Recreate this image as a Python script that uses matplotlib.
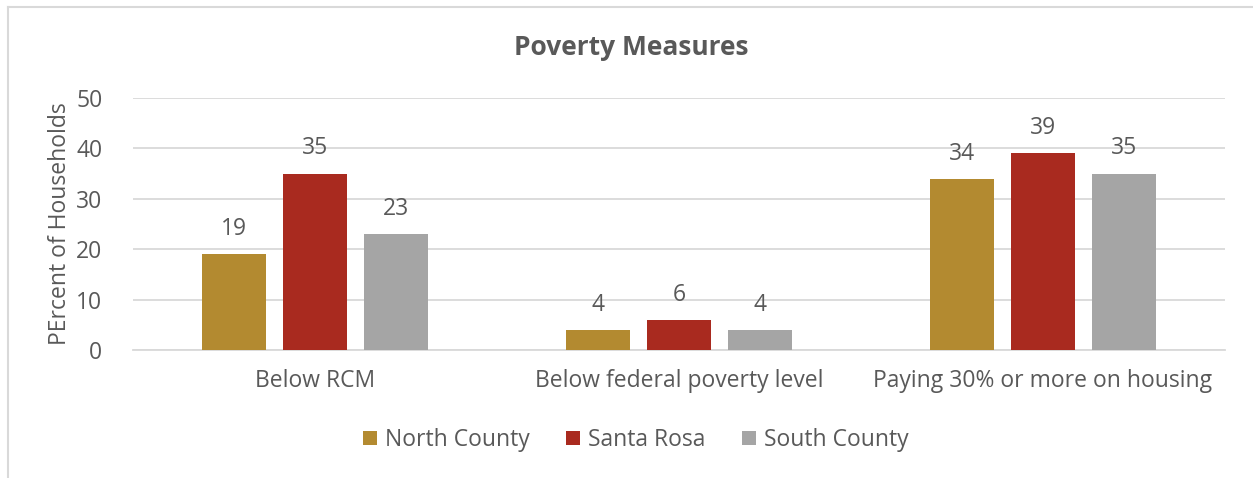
import matplotlib.pyplot as plt
import numpy as np
from matplotlib.lines import Line2D

plt.rcParams['font.family'] = ['Open Sans', 'DejaVu Sans']

categories = ['Below RCM', 'Below federal poverty level', 'Paying 30% or more on housing']
series_names = ['North County', 'Santa Rosa', 'South County']
north_county = [19, 4, 34]
santa_rosa = [35, 6, 39]
south_county = [23, 4, 35]
colors = ['#B38A30', '#A92A1F', '#A5A5A5']
text_color = '#595959'
fs = 16.5

fig = plt.figure(figsize=(12.53, 4.78), dpi=100)
ax = fig.add_axes([133 / 1253, 1 - 350 / 478, 1092 / 1253, 252 / 478])

# outer chart frame (only left and top edges show in the reference)
fx, fy = 7.5 / 1253, 1 - 6.5 / 478
fig.lines.append(Line2D([fx, fx], [0, fy], transform=fig.transFigure, color='#D9D9D9', linewidth=1.5))
fig.lines.append(Line2D([fx, 1], [fy, fy], transform=fig.transFigure, color='#D9D9D9', linewidth=1.5))

x = np.arange(len(categories))
width = 0.176
step = 0.2225
for i, (name, vals) in enumerate(zip(series_names, [north_county, santa_rosa, south_county])):
    pos = x + (i - 1) * step
    bars = ax.bar(pos, vals, width, color=colors[i], label=name, zorder=3)
    for b, v in zip(bars, vals):
        ax.text(b.get_x() + b.get_width() / 2, v + 2.6, str(v), ha='center', va='bottom',
                fontsize=fs, color=text_color)

ax.set_xlim(-0.5, 2.5)
ax.set_ylim(0, 50)
ax.set_yticks(range(0, 51, 10))
ax.set_xticks(x)
ax.set_xticklabels(categories)
ax.tick_params(axis='both', length=0, labelsize=fs, labelcolor=text_color)
ax.tick_params(axis='y', pad=22)
ax.tick_params(axis='x', pad=14)
ax.grid(axis='y', color='#D9D9D9', linewidth=1.3, zorder=0)
for s in ['top', 'right', 'left']:
    ax.spines[s].set_visible(False)
ax.spines['bottom'].set_color('#D9D9D9')
ax.spines['bottom'].set_linewidth(1.3)

ax.set_ylabel('PErcent of Households', fontsize=fs, color=text_color, labelpad=3)
fig.text(631 / 1253, 1 - 47 / 478, 'Poverty Measures', ha='center', va='center',
         fontsize=19, fontweight='bold', color=text_color)

leg = fig.legend(loc='center', bbox_to_anchor=(636 / 1253, 1 - 440 / 478), ncol=3,
                 frameon=False, fontsize=fs, handlelength=0.6, handleheight=0.6,
                 handletextpad=0.35, columnspacing=1.6)
for t in leg.get_texts():
    t.set_color(text_color)

fig.savefig('out.png', dpi=100)
